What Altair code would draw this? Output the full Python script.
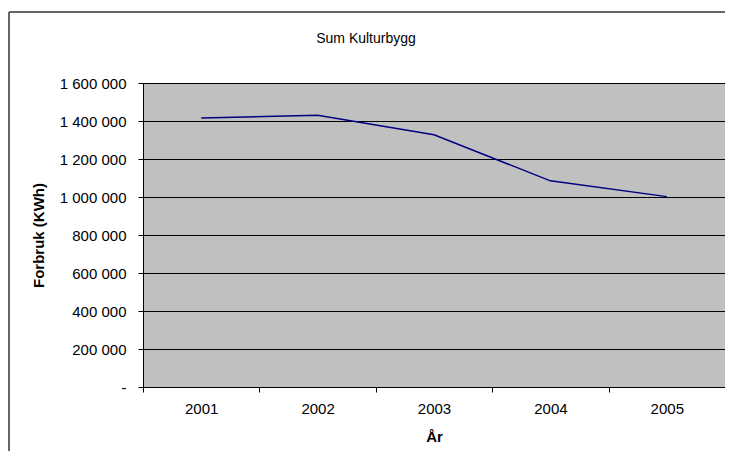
import altair as alt
import pandas as pd

years = ["2001", "2002", "2003", "2004", "2005"]
consumption = [1416000, 1430000, 1328000, 1085000, 1002000]
y_ticks = [0, 200000, 400000, 600000, 800000, 1000000, 1200000, 1400000, 1600000]
chart_title = "Sum Kulturbygg"
x_title = "År"
y_title = "Forbruk (KWh)"

FONT = "Liberation Sans"
W, H = 582, 304

df = pd.DataFrame({"year": years, "value": consumption})

line = alt.Chart(df).mark_line(color="#000080", strokeWidth=1.5).encode(
    x=alt.X(
        "year:O",
        bandPosition=0.5,
        scale=alt.Scale(type="band", paddingInner=0, paddingOuter=0),
        axis=alt.Axis(
            title=x_title,
            labelAngle=0,
            tickBand="extent",
            tickSize=5,
            tickColor="black",
            domainColor="black",
            labelPadding=9,
            labelFontSize=15,
            labelFont=FONT,
            labelColor="black",
            grid=False,
            titleFont=FONT,
            titleFontSize=15,
            titleFontWeight="bold",
            titleColor="black",
            titleY=49,
            titleBaseline="middle",
        ),
    ),
    y=alt.Y(
        "value:Q",
        scale=alt.Scale(domain=[0, 1600000], nice=False),
        axis=alt.Axis(
            title=y_title,
            values=y_ticks,
            labelExpr="datum.value == 0 ? '-' : replace(replace(format(datum.value, ','), ',', ' '), ',', ' ')",
            tickSize=5,
            tickColor="black",
            domainColor="black",
            gridColor="black",
            gridWidth=1,
            gridOpacity=1,
            labelPadding=12,
            labelFontSize=15,
            labelFont=FONT,
            labelColor="black",
            titleFont=FONT,
            titleFontSize=15,
            titleFontWeight="bold",
            titleColor="black",
            titleAngle=-90,
            titleX=-105,
            titleY=H / 2,
            titleAlign="center",
            titleBaseline="middle",
        ),
    ),
)

title_layer = alt.Chart(pd.DataFrame({"t": [chart_title]})).mark_text(
    font=FONT, fontSize=14, color="black", align="center", baseline="middle"
).encode(text="t:N", x=alt.value(223), y=alt.value(-44))

frame_top = alt.Chart(pd.DataFrame({"a": [0]})).mark_rule(color="#333333", strokeWidth=1.5).encode(
    x=alt.value(-134), x2=alt.value(W + 20), y=alt.value(-71)
)
frame_left = alt.Chart(pd.DataFrame({"a": [0]})).mark_rule(color="#333333", strokeWidth=1.5).encode(
    x=alt.value(-134), y=alt.value(-71), y2=alt.value(H + 80)
)

chart = (
    alt.layer(line, title_layer, frame_top, frame_left)
    .properties(
        width=W,
        height=H,
        padding={"left": 135, "top": 75, "right": 0, "bottom": 64},
        autosize=alt.AutoSizeParams(type="none"),
        background="white",
    )
    .configure_view(fill="#C0C0C0", stroke="#808080", strokeWidth=1)
)

chart.save("out.html", embed_options={"renderer": "svg", "actions": False})
